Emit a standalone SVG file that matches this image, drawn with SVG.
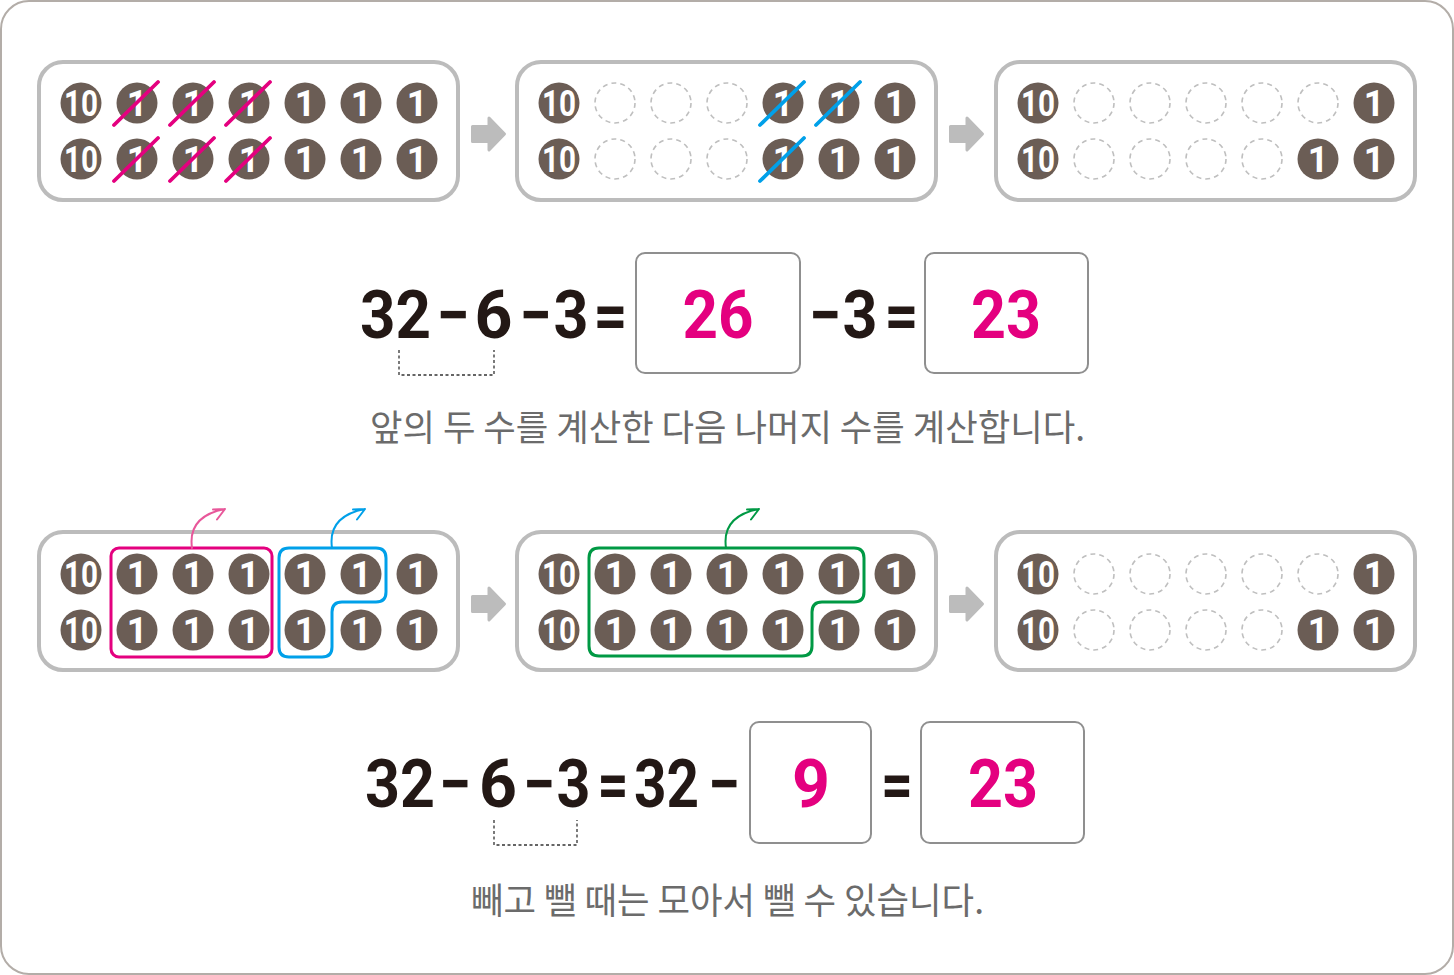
<svg xmlns="http://www.w3.org/2000/svg" width="1454" height="975" viewBox="0 0 1454 975">
<style>
.frame{fill:#fff;stroke:#b3ada8;stroke-width:2}
.panel{fill:#fff;stroke:#bcbcbc;stroke-width:4}
.coin{fill:#6b5d55}
.ct{font-family:Roboto,"Liberation Sans",sans-serif;font-weight:700;font-size:36px;fill:#fff;text-anchor:middle}
.ct10{font-family:Roboto,"Liberation Sans",sans-serif;font-weight:700;font-size:36px;fill:#fff}
.empty{fill:none;stroke:#bfbfbf;stroke-width:1.6;stroke-dasharray:5 4}
.sp{fill:none;stroke:#e4007f;stroke-width:3.8;stroke-linecap:round}
.sb{fill:none;stroke:#00a0e9;stroke-width:3.8;stroke-linecap:round}
.arr{fill:#bcbcbc;stroke:#bcbcbc;stroke-width:3;stroke-linejoin:round}
.eq{font-family:Roboto,"Liberation Sans",sans-serif;font-weight:700;font-size:67px;fill:#231815}
.ans{fill:#e4007f}
.box{fill:#fff;stroke:#8f8f8f;stroke-width:2}
.br{fill:none;stroke:#333;stroke-width:1.3;stroke-dasharray:3 2.5}
.kr{font-family:"Noto Sans CJK KR",sans-serif;font-size:36px;fill:#6b6b6b}
.gp{fill:none;stroke:#e4007f;stroke-width:3}
.gb{fill:none;stroke:#00a0e9;stroke-width:3}
.gg{fill:none;stroke:#009944;stroke-width:3}
.cp{fill:none;stroke:#e8579a;stroke-width:2;stroke-linecap:round;stroke-linejoin:round}
.cb{fill:none;stroke:#00a0e9;stroke-width:2;stroke-linecap:round;stroke-linejoin:round}
.cg{fill:none;stroke:#009944;stroke-width:2;stroke-linecap:round;stroke-linejoin:round}
</style>
<defs>
<g id="one"><circle r="20.5" class="coin"/><text class="ct" x="0" y="13">1</text></g>
<g id="ten"><circle r="20.5" class="coin"/><text class="ct10" x="-17" y="13" textLength="34" lengthAdjust="spacingAndGlyphs">10</text></g>
<circle id="emp" r="20" class="empty"/>
<path id="blk" d="M1.5,-7.5 H18 V-16 L33.5,0 L18,16 V7.5 H1.5 Z"/>
</defs>
<rect class="frame" x="1" y="1" width="1452" height="973" rx="28"/>

<g id="panel-top-1">
<rect class="panel" x="39" y="62" width="419" height="138" rx="24"/>
<use href="#ten" x="81" y="103"/><use href="#one" x="137" y="103"/><use href="#one" x="193" y="103"/><use href="#one" x="249" y="103"/><use href="#one" x="305" y="103"/><use href="#one" x="361" y="103"/><use href="#one" x="417" y="103"/>
<use href="#ten" x="81" y="159"/><use href="#one" x="137" y="159"/><use href="#one" x="193" y="159"/><use href="#one" x="249" y="159"/><use href="#one" x="305" y="159"/><use href="#one" x="361" y="159"/><use href="#one" x="417" y="159"/>
<path class="sp" d="M114,125 L158,82 M170,125 L214,82 M226,125 L270,82 M114,181 L158,138 M170,181 L214,138 M226,181 L270,138"/>
</g>

<g id="panel-top-2">
<rect class="panel" x="517" y="62" width="419" height="138" rx="24"/>
<use href="#ten" x="559" y="103"/><use href="#emp" x="615" y="103"/><use href="#emp" x="671" y="103"/><use href="#emp" x="727" y="103"/><use href="#one" x="783" y="103"/><use href="#one" x="839" y="103"/><use href="#one" x="895" y="103"/>
<use href="#ten" x="559" y="159"/><use href="#emp" x="615" y="159"/><use href="#emp" x="671" y="159"/><use href="#emp" x="727" y="159"/><use href="#one" x="783" y="159"/><use href="#one" x="839" y="159"/><use href="#one" x="895" y="159"/>
<path class="sb" d="M760,125 L804,82 M816,125 L860,82 M760,181 L804,138"/>
</g>

<g id="panel-top-3">
<rect class="panel" x="996" y="62" width="419" height="138" rx="24"/>
<use href="#ten" x="1038" y="103"/><use href="#emp" x="1094" y="103"/><use href="#emp" x="1150" y="103"/><use href="#emp" x="1206" y="103"/><use href="#emp" x="1262" y="103"/><use href="#emp" x="1318" y="103"/><use href="#one" x="1374" y="103"/>
<use href="#ten" x="1038" y="159"/><use href="#emp" x="1094" y="159"/><use href="#emp" x="1150" y="159"/><use href="#emp" x="1206" y="159"/><use href="#emp" x="1262" y="159"/><use href="#one" x="1318" y="159"/><use href="#one" x="1374" y="159"/>
</g>

<g id="panel-bottom-1">
<rect class="panel" x="39" y="532" width="419" height="138" rx="24"/>
<use href="#ten" x="81" y="574"/><use href="#one" x="137" y="574"/><use href="#one" x="193" y="574"/><use href="#one" x="249" y="574"/><use href="#one" x="305" y="574"/><use href="#one" x="361" y="574"/><use href="#one" x="417" y="574"/>
<use href="#ten" x="81" y="630"/><use href="#one" x="137" y="630"/><use href="#one" x="193" y="630"/><use href="#one" x="249" y="630"/><use href="#one" x="305" y="630"/><use href="#one" x="361" y="630"/><use href="#one" x="417" y="630"/>
<rect class="gp" x="111" y="548" width="161" height="109" rx="8"/>
<path class="gb" d="M289,548 H376 Q386,548 386,558 V592 Q386,602 376,602 H342 Q332,602 332,612 V647 Q332,657 322,657 H289 Q279,657 279,647 V558 Q279,548 289,548 Z"/>
</g>

<g id="panel-bottom-2">
<rect class="panel" x="517" y="532" width="419" height="138" rx="24"/>
<use href="#ten" x="559" y="574"/><use href="#one" x="615" y="574"/><use href="#one" x="671" y="574"/><use href="#one" x="727" y="574"/><use href="#one" x="783" y="574"/><use href="#one" x="839" y="574"/><use href="#one" x="895" y="574"/>
<use href="#ten" x="559" y="630"/><use href="#one" x="615" y="630"/><use href="#one" x="671" y="630"/><use href="#one" x="727" y="630"/><use href="#one" x="783" y="630"/><use href="#one" x="839" y="630"/><use href="#one" x="895" y="630"/>
<path class="gg" d="M599,548 H854 Q864,548 864,558 V592 Q864,602 854,602 H822 Q812,602 812,612 V646 Q812,656 802,656 H599 Q589,656 589,646 V558 Q589,548 599,548 Z"/>
</g>

<g id="panel-bottom-3">
<rect class="panel" x="996" y="532" width="419" height="138" rx="24"/>
<use href="#ten" x="1038" y="574"/><use href="#emp" x="1094" y="574"/><use href="#emp" x="1150" y="574"/><use href="#emp" x="1206" y="574"/><use href="#emp" x="1262" y="574"/><use href="#emp" x="1318" y="574"/><use href="#one" x="1374" y="574"/>
<use href="#ten" x="1038" y="630"/><use href="#emp" x="1094" y="630"/><use href="#emp" x="1150" y="630"/><use href="#emp" x="1206" y="630"/><use href="#emp" x="1262" y="630"/><use href="#one" x="1318" y="630"/><use href="#one" x="1374" y="630"/>
</g>

<g id="connectors">
<use href="#blk" class="arr" transform="translate(471,134)"/>
<use href="#blk" class="arr" transform="translate(949,134)"/>
<use href="#blk" class="arr" transform="translate(471,604)"/>
<use href="#blk" class="arr" transform="translate(949,604)"/>
<path class="cp" d="M192,548 C189,527 199,514 225,509 M213,509.5 L225,509 L217,519.5"/>
<path class="cb" d="M332,548 C329,527 339,514 365,509 M353,509.5 L365,509 L357,519.5"/>
<path class="cg" d="M726,548 C723,527 733,514 759,509 M747,509.5 L759,509 L751,519.5"/>
</g>

<g id="equation-1">
<text class="eq" x="360" y="338" textLength="71" lengthAdjust="spacingAndGlyphs">32</text>
<text class="eq" x="436.5" y="338" textLength="33" lengthAdjust="spacingAndGlyphs">−</text>
<text class="eq" x="474.5" y="338" textLength="38" lengthAdjust="spacingAndGlyphs">6</text>
<text class="eq" x="519.5" y="338" textLength="32" lengthAdjust="spacingAndGlyphs">−</text>
<text class="eq" x="553.5" y="338" textLength="35" lengthAdjust="spacingAndGlyphs">3</text>
<text class="eq" x="593.5" y="338" textLength="34" lengthAdjust="spacingAndGlyphs">=</text>
<rect class="box" x="636" y="253" width="164" height="120" rx="9"/>
<text class="eq ans" x="682.5" y="338" textLength="71" lengthAdjust="spacingAndGlyphs">26</text>
<text class="eq" x="809" y="338" textLength="32" lengthAdjust="spacingAndGlyphs">−</text>
<text class="eq" x="842.5" y="338" textLength="35" lengthAdjust="spacingAndGlyphs">3</text>
<text class="eq" x="884.5" y="338" textLength="34" lengthAdjust="spacingAndGlyphs">=</text>
<rect class="box" x="925" y="253" width="163" height="120" rx="9"/>
<text class="eq ans" x="971" y="338" textLength="70" lengthAdjust="spacingAndGlyphs">23</text>
<path class="br" d="M399,350 V375 H494 V350"/>
</g>

<g id="caption-1">
<text class="kr" x="370" y="441" textLength="715" lengthAdjust="spacingAndGlyphs">앞의 두 수를 계산한 다음 나머지 수를 계산합니다.</text>
</g>

<g id="equation-2">
<text class="eq" x="365" y="807" textLength="70" lengthAdjust="spacingAndGlyphs">32</text>
<text class="eq" x="439" y="807" textLength="32" lengthAdjust="spacingAndGlyphs">−</text>
<text class="eq" x="479" y="807" textLength="38" lengthAdjust="spacingAndGlyphs">6</text>
<text class="eq" x="523" y="807" textLength="32" lengthAdjust="spacingAndGlyphs">−</text>
<text class="eq" x="556.5" y="807" textLength="34" lengthAdjust="spacingAndGlyphs">3</text>
<text class="eq" x="597.5" y="807" textLength="31" lengthAdjust="spacingAndGlyphs">=</text>
<text class="eq" x="634" y="807" textLength="65" lengthAdjust="spacingAndGlyphs">32</text>
<text class="eq" x="708" y="807" textLength="32" lengthAdjust="spacingAndGlyphs">−</text>
<rect class="box" x="750" y="722" width="121" height="121" rx="9"/>
<text class="eq ans" x="792" y="807" textLength="38" lengthAdjust="spacingAndGlyphs">9</text>
<text class="eq" x="881" y="807" textLength="32" lengthAdjust="spacingAndGlyphs">=</text>
<rect class="box" x="921" y="722" width="163" height="121" rx="9"/>
<text class="eq ans" x="968" y="807" textLength="70" lengthAdjust="spacingAndGlyphs">23</text>
<path class="br" d="M494,820 V845 H577 V820"/>
</g>

<g id="caption-2">
<text class="kr" x="471" y="914" textLength="513" lengthAdjust="spacingAndGlyphs">빼고 뺄 때는 모아서 뺄 수 있습니다.</text>
</g>
</svg>
